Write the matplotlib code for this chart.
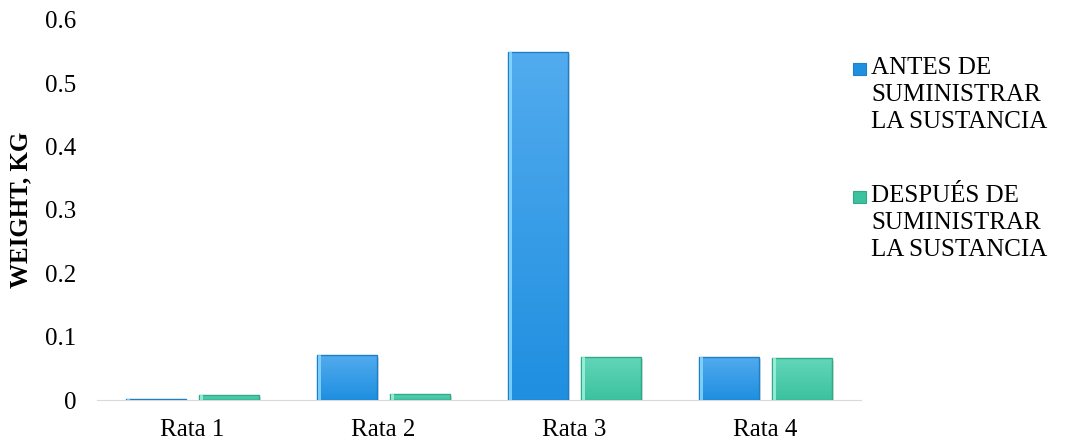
import matplotlib.pyplot as plt
import numpy as np
from matplotlib.patches import Rectangle
from matplotlib.colors import LinearSegmentedColormap

plt.rcParams['font.family'] = ['Liberation Serif', 'DejaVu Serif']

ratas = ['Rata 1', 'Rata 2', 'Rata 3', 'Rata 4']
antes = [0.002, 0.071, 0.550, 0.068]
despues = [0.008, 0.010, 0.068, 0.066]
labels = ['ANTES DE\nSUMINISTRAR\nLA SUSTANCIA', 'DESPUÉS DE\nSUMINISTRAR\nLA SUSTANCIA']

# (top, bottom, highlight, border) for the bevelled look
blue = ('#52abee', '#1f8fe0', '#8ddcff', '#1c7fc8')
green = ('#62d6b8', '#3cc29f', '#a4f5e0', '#2fa986')


def bevel_bars(ax, x, vals, cols, width):
    bars = ax.bar(x, vals, width, color='none', edgecolor='none', zorder=3)
    grad = np.linspace(0, 1, 64).reshape(-1, 1)
    cmap = LinearSegmentedColormap.from_list('g', [cols[1], cols[0]])
    for b in bars:
        x0, w, h = b.get_x(), b.get_width(), b.get_height()
        # soft shadow
        ax.add_patch(Rectangle((x0 + 0.01, -0.004), w, h, color='#000000',
                               alpha=0.12, lw=0, zorder=2))
        im = ax.imshow(grad, extent=(x0, x0 + w, 0, h), origin='lower',
                       cmap=cmap, aspect='auto', zorder=3)
        im.set_clip_path(b)
        ax.add_patch(Rectangle((x0, 0), w, h, fill=False, edgecolor=cols[3],
                               lw=1.0, zorder=4))
        # light strip on the left side
        ax.add_patch(Rectangle((x0 + 0.004, 0), 0.018, h, color=cols[2],
                               alpha=0.8, lw=0, zorder=4))
    return bars


fig = plt.figure(figsize=(10.69, 4.43), dpi=100)
ax = fig.add_axes([0.0907, 0.097, 0.7147, 0.858])

ind = np.arange(len(ratas))
width = 0.314
bevel_bars(ax, ind - 0.19, antes, blue, width)
bevel_bars(ax, ind + 0.19, despues, green, width)

ax.set_xlim(-0.5, 3.5)
ax.set_ylim(0, 0.6)
ax.set_xticks(ind)
ax.set_xticklabels(ratas, fontsize=18)
ax.set_yticks(np.arange(0, 0.61, 0.1))
ax.set_yticklabels(['0', '0.1', '0.2', '0.3', '0.4', '0.5', '0.6'], fontsize=18)
ax.tick_params(axis='x', length=0, pad=14)
ax.tick_params(axis='y', length=0, pad=15)
for s in ['top', 'right', 'left']:
    ax.spines[s].set_visible(False)
ax.spines['bottom'].set_color('#d9d9d9')
ax.spines['bottom'].set_zorder(1)
ax.set_ylabel('WEIGHT, KG', fontsize=18, fontweight='bold')
ax.yaxis.set_label_coords(-0.085, 0.5)

# legend drawn by hand so the swatch sits on the first line
for i, (lab, cols) in enumerate(zip(labels, [blue, green])):
    ytop = 1 - (62 + i * 128) / 443
    fig.patches.append(Rectangle((853 / 1069, ytop - 13 / 443), 13 / 1069, 12 / 443,
                                 transform=fig.transFigure, facecolor=cols[1],
                                 edgecolor=cols[3], lw=0.8))
    fig.text(871 / 1069, ytop + 5 / 443, lab, fontsize=18, va='top', ha='left',
             linespacing=1.3)

fig.savefig('out.png', dpi=100)
